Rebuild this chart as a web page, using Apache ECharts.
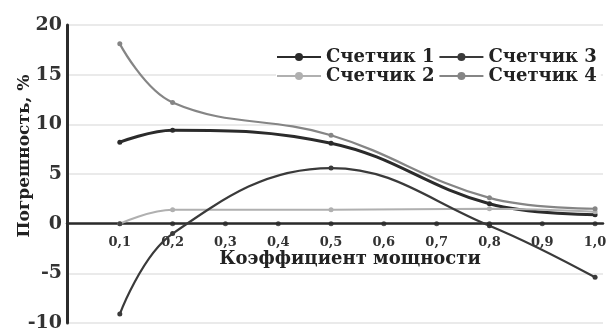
<!DOCTYPE html>
<html><head><meta charset="utf-8">
<script src="https://cdn.jsdelivr.net/npm/echarts@6/dist/echarts.min.js"></script>
<style>html,body{margin:0;padding:0;background:#fff}#c{width:612px;height:332px}</style>
</head><body><div id="c"></div>
<script>
var xValues = [0.1, 0.2, 0.5, 0.8, 1.0];
var s1 = [8.2, 9.4, 8.1, 2.0, 0.9];
var s2 = [0.0, 1.4, 1.4, 1.5, 1.2];
var s3 = [-9.1, -1.0, 5.6, -0.2, -5.4];
var s4 = [18.1, 12.2, 8.9, 2.6, 1.5];
var tickX = [0.1, 0.2, 0.3, 0.4, 0.5, 0.6, 0.7, 0.8, 0.9, 1.0];
var names = ['Счетчик 1', 'Счетчик 2', 'Счетчик 3', 'Счетчик 4'];
var colors = ['#2b2b2b', '#b0b0b0', '#3a3a3a', '#858585'];

function pairs(v) { return xValues.map(function (x, i) { return [x, v[i]]; }); }
var font = 'DejaVu Serif';
var chart = echarts.init(document.getElementById('c'));
var seriesData = [s1, s2, s3, s4];
var series = seriesData.map(function (d, i) {
  return {
    name: names[i], type: 'line', smooth: 0.4, data: pairs(d),
    symbol: 'circle', symbolSize: 5,
    lineStyle: { color: colors[i], width: i === 0 ? 3 : 2.2 },
    itemStyle: { color: colors[i] }, z: 3
  };
});
series.push({
  name: 'ticks', type: 'scatter', silent: true, symbolSize: 5,
  data: tickX.map(function (x) { return [x, 0]; }),
  itemStyle: { color: '#2b2b2b' }, z: 4
});
var legendText = { fontFamily: font, fontWeight: 'bold', fontSize: 18, color: '#222' };
chart.setOption({
  animation: false,
  backgroundColor: '#fff',
  grid: { left: 67, right: 9, top: 25, bottom: 9, containLabel: false, outerBoundsMode: 'none' },
  legend: [
    { data: ['Счетчик 1', 'Счетчик 3'], left: 276, top: 48, itemWidth: 44, itemHeight: 10, itemGap: 4,
      padding: [0, 4, 0, 0], backgroundColor: '#fff', textStyle: legendText },
    { data: ['Счетчик 2', 'Счетчик 4'], left: 276, top: 67, itemWidth: 44, itemHeight: 10, itemGap: 4,
      padding: [0, 4, 2, 0], backgroundColor: '#fff', textStyle: legendText }
  ],
  xAxis: {
    type: 'value', min: 0, max: 1.015, interval: 0.1,
    axisLine: { onZero: false, lineStyle: { color: '#2b2b2b', width: 2.5 } },
    axisTick: { show: false },
    splitLine: { show: false },
    axisLabel: {
      margin: 12, fontFamily: font, fontWeight: 'bold', fontSize: 13, color: '#333',
      formatter: function (v) { return (v === 0 || v > 1.001) ? '' : v.toFixed(1).replace('.', ','); }
    },
    name: 'Коэффициент мощности', nameLocation: 'middle', nameGap: 27, nameMoveOverlap: false,
    nameTextStyle: { fontFamily: font, fontWeight: 'bold', fontSize: 18, color: '#222', padding: [0, 0, 0, 30] }
  },
  yAxis: {
    type: 'value', min: -10, max: 20, interval: 5,
    axisLine: { show: true, lineStyle: { color: '#2b2b2b', width: 3 } },
    axisTick: { show: false },
    splitLine: { lineStyle: { color: '#e3e3e3', width: 1.5 } },
    axisLabel: { margin: 5, fontFamily: font, fontWeight: 'bold', fontSize: 19, color: '#333' },
    name: 'Погрешность, %', nameLocation: 'middle', nameGap: 34, nameRotate: 90, nameMoveOverlap: false,
    nameTextStyle: { fontFamily: font, fontWeight: 'bold', fontSize: 17, color: '#222', padding: [0, 0, 0, 36] }
  },
  series: series
});
// move the x axis (line, labels, name) up to the zero line using the library's own y scale
var yZero = chart.convertToPixel({ yAxisIndex: 0 }, 0);
var yMin = chart.convertToPixel({ yAxisIndex: 0 }, -10);
chart.setOption({ xAxis: { offset: -(yMin - yZero) } });
</script></body></html>
